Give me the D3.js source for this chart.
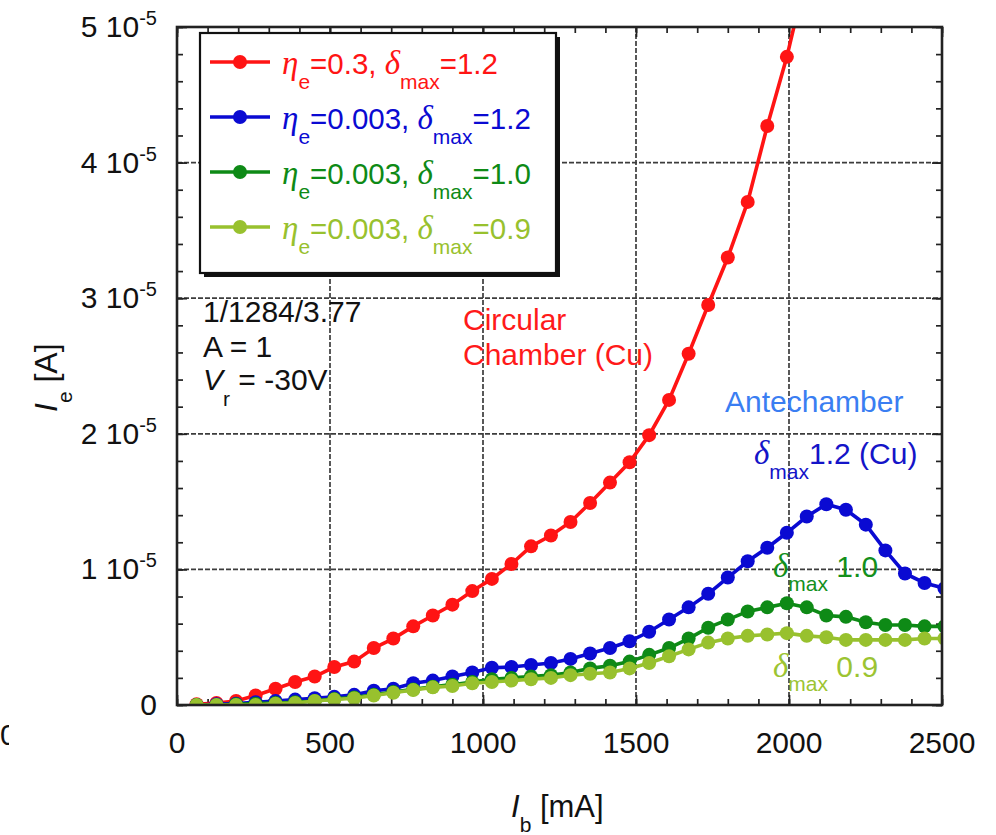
<!DOCTYPE html>
<html>
<head>
<meta charset="utf-8">
<script src="https://cdn.jsdelivr.net/npm/d3@7"></script>
<style>
  html, body { margin: 0; padding: 0; background: #fff; }
  svg { display: block; font-family: "Liberation Sans", Arial, Helvetica, sans-serif; }
</style>
</head>
<body>
<svg id="chart" width="996" height="835"></svg>
<script>
// Beam current I_b [mA] at each simulated point
const beamCurrent = [64, 129, 193, 257, 322, 386, 450, 514, 579, 643, 707, 772, 836, 900, 965,
  1029, 1093, 1157, 1222, 1286, 1350, 1415, 1479, 1543, 1608, 1672, 1736, 1800, 1865, 1929,
  1993, 2058, 2122, 2186, 2251, 2315, 2379, 2443, 2508];

// Electron current I_e in units of 1e-5 A
const ieEta03Dmax12 = [0.005, 0.015, 0.03, 0.07, 0.12, 0.17, 0.21, 0.28, 0.32, 0.42, 0.49, 0.58,
  0.66, 0.74, 0.84, 0.93, 1.04, 1.17, 1.25, 1.35, 1.49, 1.64, 1.79, 1.99, 2.25, 2.59, 2.95, 3.30,
  3.71, 4.27, 4.78, 5.40];
const ieEta0003Dmax12 = [0.0, 0.005, 0.01, 0.02, 0.03, 0.04, 0.05, 0.06, 0.075, 0.105, 0.12, 0.16,
  0.18, 0.21, 0.24, 0.275, 0.28, 0.295, 0.31, 0.34, 0.38, 0.42, 0.47, 0.54, 0.63, 0.72, 0.82, 0.94,
  1.06, 1.16, 1.27, 1.39, 1.48, 1.44, 1.33, 1.14, 0.97, 0.90, 0.86];
const ieEta0003Dmax10 = [0.0, 0.0, 0.005, 0.01, 0.015, 0.02, 0.03, 0.045, 0.055, 0.075, 0.095, 0.115,
  0.135, 0.15, 0.17, 0.19, 0.20, 0.21, 0.22, 0.24, 0.27, 0.29, 0.32, 0.37, 0.42, 0.49, 0.57, 0.63,
  0.69, 0.72, 0.75, 0.72, 0.66, 0.65, 0.61, 0.59, 0.59, 0.58, 0.58];
const ieEta0003Dmax09 = [0.0, 0.0, 0.0, 0.0, 0.01, 0.015, 0.03, 0.04, 0.05, 0.07, 0.09, 0.11,
  0.13, 0.14, 0.16, 0.17, 0.18, 0.19, 0.20, 0.22, 0.23, 0.24, 0.27, 0.31, 0.36, 0.41, 0.46, 0.49,
  0.51, 0.52, 0.53, 0.51, 0.50, 0.48, 0.48, 0.48, 0.48, 0.49, 0.49];

// Legend labels: [eta value, delta_max value]
const legendEta = ["0.3", "0.003", "0.003", "0.003"];
const legendDmax = ["1.2", "1.2", "1.0", "0.9"];
const seriesColors = ["#ff1414", "#0a0ad2", "#0e8a16", "#98c12e"];

// Axis ticks
const xTickValues = [0, 500, 1000, 1500, 2000, 2500];
const yTickValues = [0, 1, 2, 3, 4, 5];

const series = [ieEta03Dmax12, ieEta0003Dmax12, ieEta0003Dmax10, ieEta0003Dmax09].map((vals, i) => ({
  points: vals.map((v, j) => ({ x: beamCurrent[j], y: v })),
  color: seriesColors[i],
  eta: legendEta[i],
  dmax: legendDmax[i]
}));

const plot = { left: 177, right: 942, top: 27, bottom: 705 };
const x = d3.scaleLinear().domain([0, 2500]).range([plot.left, plot.right]);
const y = d3.scaleLinear().domain([0, 5]).range([plot.bottom, plot.top]);

const svg = d3.select("#chart");
const defs = svg.append("defs");
defs.append("clipPath").attr("id", "plot-clip")
  .append("rect").attr("x", plot.left).attr("y", plot.top)
  .attr("width", plot.right - plot.left).attr("height", plot.bottom - plot.top);
defs.append("clipPath").attr("id", "edge-clip")
  .append("rect").attr("x", 0).attr("y", 700).attr("width", 9).attr("height", 60);

const FS = 30;
const SERIF = "'Liberation Serif', 'Times New Roman', serif";
const DOT_R = 7;
const LINE_W = 3.6;

// Dashed grid
const grid = svg.append("g").attr("stroke", "#3c3c3c").attr("stroke-width", 1.7)
  .attr("stroke-dasharray", "5,2");
grid.selectAll("line.gx").data(xTickValues.slice(1, -1)).join("line")
  .attr("x1", d => x(d)).attr("x2", d => x(d)).attr("y1", plot.top).attr("y2", plot.bottom);
grid.selectAll("line.gy").data(yTickValues.slice(1, -1)).join("line")
  .attr("y1", d => y(d)).attr("y2", d => y(d)).attr("x1", plot.left).attr("x2", plot.right);

// Inward ticks on all four sides
const xMinor = d3.range(0, 2501, 100);
const yMinor = d3.range(0, 5.001, 0.2);
function tickAxis(axis, tx, ty) {
  const g = svg.append("g").attr("transform", `translate(${tx},${ty})`).call(axis);
  g.select(".domain").remove();
  g.selectAll(".tick line").attr("stroke", "#222").attr("stroke-width", 1.7);
  g.selectAll(".tick text").remove();
}
tickAxis(d3.axisBottom(x).tickValues(xMinor).tickSize(-6), 0, plot.bottom);
tickAxis(d3.axisTop(x).tickValues(xMinor).tickSize(-6), 0, plot.top);
tickAxis(d3.axisLeft(y).tickValues(yMinor).tickSize(-6), plot.left, 0);
tickAxis(d3.axisRight(y).tickValues(yMinor).tickSize(-6), plot.right, 0);
tickAxis(d3.axisBottom(x).tickValues(xTickValues).tickSize(-10), 0, plot.bottom);
tickAxis(d3.axisTop(x).tickValues(xTickValues).tickSize(-10), 0, plot.top);
tickAxis(d3.axisLeft(y).tickValues(yTickValues).tickSize(-10), plot.left, 0);
tickAxis(d3.axisRight(y).tickValues(yTickValues).tickSize(-10), plot.right, 0);

// Annotations inside the plot
function addText(xp, yp, color, parts, size) {
  const t = svg.append("text").attr("x", xp).attr("y", yp).attr("fill", color)
    .attr("font-size", size || FS);
  parts.forEach(p => {
    const s = t.append("tspan").text(p.t);
    if (p.dy) s.attr("dy", p.dy);
    if (p.fs) s.attr("font-size", p.fs);
    if (p.it) s.attr("font-style", "italic");
    if (p.serif) s.attr("font-family", SERIF);
  });
  return t;
}
addText(203, 322, "#111", [{ t: "1/1284/3.77" }]);
addText(203, 357, "#111", [{ t: "A = 1" }]);
addText(203, 390, "#111", [{ t: "V", it: true }, { t: "r", fs: 21, dy: 16 }, { t: " = -30V", dy: -16 }]);
addText(463, 330, "#ff1a1a", [{ t: "Circular" }]);
addText(463, 365, "#ff1a1a", [{ t: "Chamber (Cu)" }]);
addText(725, 412, "#3a7ef2", [{ t: "Antechamber" }]);
addText(754, 464, "#1414c8", [{ t: "δ", it: true, serif: true, fs: 33 }, { t: "max", fs: 21, dy: 15 },
  { t: "1.2 (Cu)", dy: -15 }]);
addText(773, 577, "#14901c", [{ t: "δ", it: true, serif: true, fs: 33 }, { t: "max", fs: 21, dy: 14 },
  { t: " 1.0", dy: -14 }]);
addText(773, 677, "#9cc432", [{ t: "δ", it: true, serif: true, fs: 33 }, { t: "max", fs: 21, dy: 14 },
  { t: " 0.9", dy: -14 }]);

// Data lines and markers
const line = d3.line().x(d => x(d.x)).y(d => y(d.y));
const dataG = svg.append("g").attr("clip-path", "url(#plot-clip)");
series.forEach(s => {
  dataG.append("path").datum(s.points).attr("d", line)
    .attr("fill", "none").attr("stroke", s.color).attr("stroke-width", LINE_W);
  dataG.append("g").selectAll("circle").data(s.points).join("circle")
    .attr("cx", d => x(d.x)).attr("cy", d => y(d.y)).attr("r", DOT_R).attr("fill", s.color);
});

// Frame
svg.append("rect").attr("x", plot.left).attr("y", plot.top)
  .attr("width", plot.right - plot.left).attr("height", plot.bottom - plot.top)
  .attr("fill", "none").attr("stroke", "#222").attr("stroke-width", 2.6);

// Tick labels
svg.append("g").selectAll("text").data(xTickValues).join("text")
  .attr("x", d => x(d)).attr("y", 753).attr("text-anchor", "middle")
  .attr("font-size", FS).attr("fill", "#111").text(d => d);
const yl = svg.append("g").selectAll("text").data(yTickValues).join("text")
  .attr("x", 157).attr("y", d => y(d) + 10).attr("text-anchor", "end")
  .attr("font-size", FS).attr("fill", "#111");
yl.each(function (d) {
  const t = d3.select(this);
  if (d === 0) { t.text("0"); return; }
  t.append("tspan").text(`${d} 10`);
  t.append("tspan").attr("font-size", 20).attr("dy", -12).text("-5");
});

// Stray edge glyph at the left margin
svg.append("text").attr("x", 0).attr("y", 745).attr("font-size", FS).attr("fill", "#111")
  .attr("clip-path", "url(#edge-clip)").text("0");

// Axis titles
addText(511, 817, "#111", [{ t: "I", it: true, fs: 31 }, { t: "b", fs: 21, dy: 15 },
  { t: " [mA]", dy: -15, fs: 31 }]);
const yTitle = svg.append("text").attr("transform", "translate(57,412) rotate(-90)")
  .attr("fill", "#111").attr("font-size", 32);
yTitle.append("tspan").attr("font-style", "italic").text("I");
yTitle.append("tspan").attr("font-size", 21).attr("dy", 15).text("e");
yTitle.append("tspan").attr("dy", -15).text(" [A]");

// Legend
const lg = svg.append("g");
lg.append("rect").attr("x", 204).attr("y", 37).attr("width", 356).attr("height", 240).attr("fill", "#111");
lg.append("rect").attr("x", 200).attr("y", 33).attr("width", 356).attr("height", 240)
  .attr("fill", "#fff").attr("stroke", "#111").attr("stroke-width", 2.2);
const rowY = d3.scalePoint().domain(d3.range(series.length)).range([62, 227]);
series.forEach((s, i) => {
  const yy = rowY(i);
  lg.append("line").attr("x1", 210).attr("x2", 270).attr("y1", yy).attr("y2", yy)
    .attr("stroke", s.color).attr("stroke-width", LINE_W);
  lg.append("circle").attr("cx", 240).attr("cy", yy).attr("r", DOT_R).attr("fill", s.color);
  const t = lg.append("text").attr("x", 282).attr("y", yy + 12).attr("fill", s.color).attr("font-size", 29.5);
  t.append("tspan").attr("font-family", SERIF).attr("font-style", "italic").attr("font-size", 33).text("η");
  t.append("tspan").attr("font-size", 21).attr("dy", 15).text("e");
  t.append("tspan").attr("dy", -15).text(`=${s.eta}, `);
  t.append("tspan").attr("font-family", SERIF).attr("font-style", "italic").attr("font-size", 33).text("δ");
  t.append("tspan").attr("font-size", 21).attr("dy", 15).text("max");
  t.append("tspan").attr("dy", -15).text(`=${s.dmax}`);
});
</script>
</body>
</html>
